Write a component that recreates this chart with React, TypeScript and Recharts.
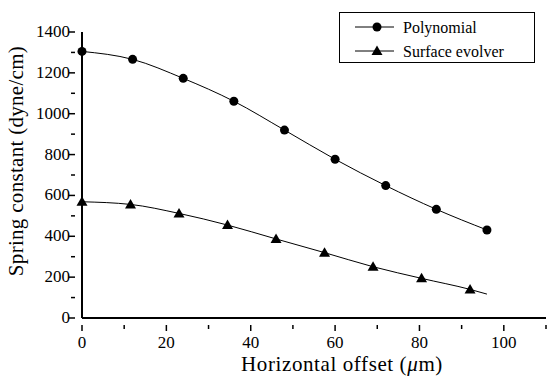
import React from "react";
import { LineChart, Line, XAxis, YAxis, Legend } from "recharts";

const polyX = [0, 12, 24, 36, 48, 60, 72, 84, 96];
const polyY = [1305, 1266, 1173, 1061, 920, 777, 648, 532, 431];
const evolverX = [0, 11.5, 23, 34.5, 46, 57.5, 69, 80.5, 92, 96];
const evolverY = [569, 556, 512, 455, 387, 320, 251, 194, 140, 117];

const xTicks = [0, 10, 20, 30, 40, 50, 60, 70, 80, 90, 100, 110];
const yTicks = [0, 100, 200, 300, 400, 500, 600, 700, 800, 900, 1000, 1100, 1200, 1300, 1400];

const seriesNames = ["Polynomial", "Surface evolver"];

const polyData = polyX.map((x, i) => ({ x, y: polyY[i] }));
const evolverData = evolverX.map((x, i) => ({ x, y: evolverY[i] }));

const FONT = '"Liberation Serif", "Times New Roman", "DejaVu Serif", serif';
const txt = { fontFamily: FONT, fill: "#000" };

const XTick = (props: any) => {
  const { x, y, payload } = props;
  const major = payload.value % 20 === 0 && payload.value <= 100;
  return (
    <g>
      <line x1={x} x2={x} y1={y - 1} y2={y + (major ? 5 : 3)} stroke="#000" strokeWidth={1.5} />
      {major && (
        <text x={x} y={y + 22} textAnchor="middle" style={{ ...txt, fontSize: 17 }}>
          {payload.value}
        </text>
      )}
    </g>
  );
};

const YTick = (props: any) => {
  const { x, y, payload } = props;
  const major = payload.value % 200 === 0;
  return (
    <g>
      <line x1={x + 1} x2={x - (major ? 5 : 3)} y1={y} y2={y} stroke="#000" strokeWidth={1.5} />
      {major && (
        <text x={x - 4} y={y + 5} textAnchor="end" style={{ ...txt, fontSize: 17 }}>
          {payload.value}
        </text>
      )}
    </g>
  );
};

const XLabel = (props: any) => {
  const { viewBox } = props;
  return (
    <text
      x={viewBox.x + 260}
      y={viewBox.y + 53}
      textAnchor="middle"
      style={{ ...txt, fontSize: 21, letterSpacing: 0.6 }}
    >
      Horizontal offset (<tspan fontStyle="italic">μ</tspan>m)
    </text>
  );
};

const YLabel = (props: any) => {
  const { viewBox } = props;
  const cx = 16;
  const cy = viewBox.y + viewBox.height / 2 - 14;
  return (
    <text
      x={cx}
      y={cy}
      transform={`rotate(-90, ${cx}, ${cy})`}
      textAnchor="middle"
      dominantBaseline="central"
      style={{ ...txt, fontSize: 21, letterSpacing: 0.3 }}
    >
      Spring constant (dyne/cm)
    </text>
  );
};

const Circle = (props: any) => {
  const { cx, cy, index } = props;
  return <circle key={`c${index}`} cx={cx} cy={cy} r={4.5} fill="#000" />;
};

const Triangle = (props: any) => {
  const { cx, cy, index } = props;
  if (index === evolverX.length - 1) return <g key={`t${index}`} />;
  return (
    <path key={`t${index}`} d={`M${cx},${cy - 5.5} L${cx + 5.5},${cy + 4} L${cx - 5.5},${cy + 4} Z`} fill="#000" />
  );
};

const LegendBox = () => (
  <div style={{ width: 194, height: 49, border: "1.5px solid #000", background: "#fff" }}>
    <svg width={194} height={49} style={{ display: "block" }}>
      <line x1={15} x2={54} y1={14} y2={14} stroke="#000" strokeWidth={1} />
      <circle cx={37} cy={14} r={4.5} fill="#000" />
      <text x={63} y={20} style={{ ...txt, fontSize: 16 }}>{seriesNames[0]}</text>
      <line x1={15} x2={54} y1={38} y2={38} stroke="#000" strokeWidth={1} />
      <path d="M37,32.5 L42.5,42 L31.5,42 Z" fill="#000" />
      <text x={63} y={44} style={{ ...txt, fontSize: 16 }}>{seriesNames[1]}</text>
    </svg>
  </div>
);

export default function App() {
  return (
    <div style={{ position: "fixed", left: 0, top: 0, width: 549, height: 376, background: "#fff" }}>
      <LineChart width={549} height={376} margin={{ top: 32, right: 3, left: 0, bottom: 0 }}>
        <XAxis
          type="number"
          dataKey="x"
          domain={[0, 110]}
          ticks={xTicks}
          interval={0}
          height={58}
          tickLine={false}
          tick={<XTick />}
          axisLine={{ stroke: "#000", strokeWidth: 2 }}
          label={<XLabel />}
        />
        <YAxis
          type="number"
          dataKey="y"
          domain={[0, 1400]}
          ticks={yTicks}
          interval={0}
          width={82}
          tickLine={false}
          tick={<YTick />}
          axisLine={{ stroke: "#000", strokeWidth: 2 }}
          label={<YLabel />}
        />
        <Legend
          layout="vertical"
          align="center"
          verticalAlign="middle"
          wrapperStyle={{ position: "absolute", top: 12, left: 339, width: 197, height: 52 }}
          content={<LegendBox />}
        />
        <Line
          data={polyData}
          dataKey="y"
          name={seriesNames[0]}
          type="monotone"
          stroke="#000"
          strokeWidth={1}
          dot={<Circle />}
          isAnimationActive={false}
        />
        <Line
          data={evolverData}
          dataKey="y"
          name={seriesNames[1]}
          type="monotone"
          stroke="#000"
          strokeWidth={1}
          dot={<Triangle />}
          isAnimationActive={false}
        />
      </LineChart>
    </div>
  );
}
